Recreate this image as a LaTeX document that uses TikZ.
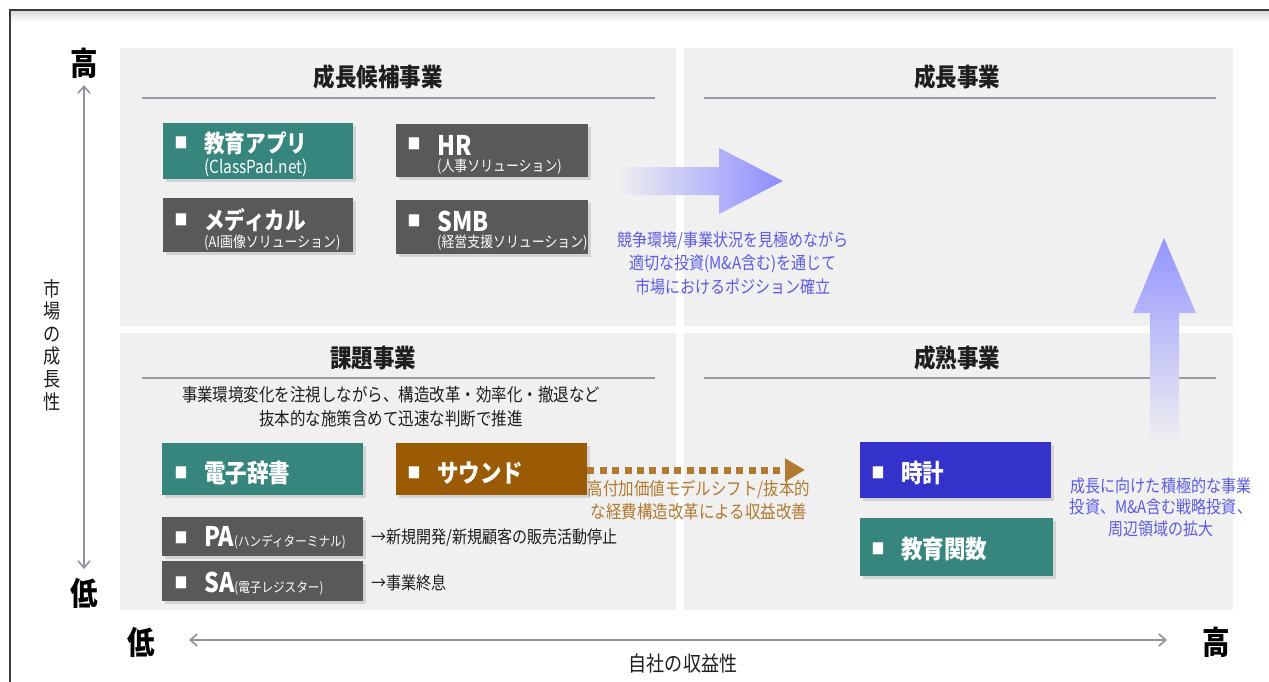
\documentclass[tikz,border=0pt]{standalone}
\usepackage{fontspec}
\setmainfont[FakeStretch=0.86]{Noto Sans CJK JP}
\usetikzlibrary{arrows.meta,shadows}
\definecolor{panel}{HTML}{F0F0F0}
\definecolor{cteal}{HTML}{36867E}
\definecolor{cgray}{HTML}{595959}
\definecolor{cblue}{HTML}{3333CC}
\definecolor{cbrown}{HTML}{9B5B05}
\definecolor{tblue}{HTML}{5C5CE8}
\definecolor{tbrown}{HTML}{B27A30}
\definecolor{caxis}{HTML}{9590A0}
\definecolor{ctitle}{HTML}{1E1E1E}
\definecolor{csep}{HTML}{9C97A3}
\definecolor{cframe}{HTML}{3C3C3C}
\newcommand{\myfs}[1]{\fontsize{#1}{#1}\selectfont}
\begin{document}
\begin{tikzpicture}[x=1pt,y=-1pt,
  box/.style={draw=none,inner sep=0pt,anchor=north west,
    drop shadow={shadow xshift=3pt,shadow yshift=-3pt,opacity=0.25}},
  lbl/.style={inner sep=0pt,anchor=west,text=white,font=\bfseries\myfs{24}},
  sub/.style={inner sep=0pt,anchor=west,text=white,font=\myfs{15}},
  bul/.style={inner sep=0pt,text=white,font=\myfs{15}},
  ttl/.style={inner sep=0pt,text=ctitle,font=\bfseries\myfs{25}},
  sepline/.style={draw=csep,line width=1.2pt},
  btext/.style={inner sep=0pt,align=center,text=tblue,font=\myfs{17.5}},
  axisline/.style={draw=caxis,line width=1.6pt},
  axl/.style={inner sep=0pt,text=black,font=\bfseries\myfs{32}}
]
\useasboundingbox (0,0) rectangle (1269,682);
\fill[white] (0,0) rectangle (1269,682);
% frame
\shade[top color=black!14,bottom color=white] (11,11) rectangle (1269,22);
\draw[cframe,line width=2pt] (10,682) -- (10,10) -- (1269,10);
% panels
\fill[panel] (120,48) rectangle (676,326);
\fill[panel] (684,48) rectangle (1233,326);
\fill[panel] (120,333) rectangle (676,610);
\fill[panel] (684,333) rectangle (1233,610);
% titles
\node[ttl] (t1) at (378,77) {成長候補事業};
\node[ttl] (t2) at (957,77) {成長事業};
\node[ttl] (t3) at (373,358) {課題事業};
\node[ttl] (t4) at (957,358) {成熟事業};
\draw[sepline] (142,98) -- (655,98);
\draw[sepline] (704,98) -- (1216,98);
\draw[sepline] (142,378) -- (655,378);
\draw[sepline] (704,378) -- (1216,378);
% growth arrows
\shade[left color=panel,right color=blue!45!white] (617,167) -- (719,167) -- (719,148) -- (783,181) -- (719,214) -- (719,195) -- (617,195) -- cycle;
\shade[top color=blue!42!white,bottom color=panel] (1150,445) -- (1150,313) -- (1133,313) -- (1164,238) -- (1196,313) -- (1179,313) -- (1179,445) -- cycle;
% top-left boxes
\node[box,fill=cteal,minimum width=190pt,minimum height=56pt] (edu) at (163,123) {};
\node[bul] (edub) at (181,143) {■};
\node[lbl] (edul) at (204,143) {教育アプリ};
\node[sub,font=\myfs{18}] (edus) at (204,168) {(ClassPad.net)};
\node[box,fill=cgray,minimum width=192pt,minimum height=53pt] (hr) at (396,124) {};
\node[bul] (hrb) at (414,144) {■};
\node[lbl,font=\bfseries\myfs{27}] (hrl) at (437,145) {HR};
\node[sub] (hrs) at (437,167) {(人事ソリューション)};
\node[box,fill=cgray,minimum width=190pt,minimum height=54pt] (med) at (163,198) {};
\node[bul] (medb) at (181,220) {■};
\node[lbl] (medl) at (204,220) {メディカル};
\node[sub] (meds) at (204,243) {(AI画像ソリューション)};
\node[box,fill=cgray,minimum width=192pt,minimum height=54pt] (smb) at (396,200) {};
\node[bul] (smbb) at (414,221) {■};
\node[lbl,font=\bfseries\myfs{27}] (smbl) at (437,221) {SMB};
\node[sub] (smbs) at (437,243) {(経営支援ソリューション)};
\node[btext] (grow) at (733,263) {競争環境/事業状況を見極めながら\\[4.5pt]適切な投資(M\&A含む)を通じて\\[4.5pt]市場におけるポジション確立};
% bottom-left
\node[inner sep=0pt,align=center,text=ctitle,font=\myfs{18}] (desc) at (391,407) {事業環境変化を注視しながら、構造改革・効率化・撤退など\\[6pt]抜本的な施策含めて迅速な判断で推進};
\node[box,fill=cteal,minimum width=201pt,minimum height=52pt] (dict) at (162,443) {};
\node[bul] (dictb) at (181,473) {■};
\node[lbl,font=\bfseries\myfs{25}] (dictl) at (204,473) {電子辞書};
\node[box,fill=cbrown,minimum width=191pt,minimum height=52pt] (sound) at (396,443) {};
\node[bul] (soundb) at (414,473) {■};
\node[lbl,font=\bfseries\myfs{25}] (soundl) at (437,473) {サウンド};
\node[box,fill=cgray,minimum width=201pt,minimum height=39pt] (pa) at (162,517) {};
\node[bul] (pab) at (181,538) {■};
\node[lbl,font=\myfs{24}] (pal) at (204,538) {{\bfseries\myfs{27}PA}{\myfs{13.5}(ハンディターミナル)}};
\node[box,fill=cgray,minimum width=201pt,minimum height=40pt] (sa) at (162,561) {};
\node[bul] (sab) at (181,583) {■};
\node[lbl,font=\myfs{24}] (sal) at (204,584) {{\bfseries\myfs{27}SA}{\myfs{13.5}(電子レジスター)}};
\node[inner sep=0pt,anchor=west,text=ctitle,font=\myfs{17.5}] (pan) at (371,538) {→新規開発/新規顧客の販売活動停止};
\node[inner sep=0pt,anchor=west,text=ctitle,font=\myfs{17.5}] (san) at (371,583) {→事業終息};
\coordinate (shiftend) at (805,470);
\draw[draw=tbrown,line width=7pt,dash pattern=on 7pt off 5.4pt,-{Triangle[length=20pt,width=22pt]}] (sound.east |- shiftend) -- (shiftend);
\node[inner sep=0pt,align=center,text=tbrown,font=\myfs{18}] (shift) at (699,500) {高付加価値モデルシフト/抜本的\\[4pt]な経費構造改革による収益改善};
% bottom-right
\node[box,fill=cblue,minimum width=191pt,minimum height=56pt] (watch) at (860,442) {};
\node[bul] (watchb) at (878,473) {■};
\node[lbl,font=\bfseries\myfs{25}] (watchl) at (901,473) {時計};
\node[box,fill=cteal,minimum width=193pt,minimum height=58pt] (calc) at (860,518) {};
\node[bul] (calcb) at (878,549) {■};
\node[lbl,font=\bfseries\myfs{25}] (calcl) at (901,549) {教育関数};
\node[btext] (invest) at (1161,507) {成長に向けた積極的な事業\\[4pt]投資、M\&A含む戦略投資、\\[4pt]周辺領域の拡大};
% axes
\coordinate (vtop) at (84,85);
\coordinate (vbot) at (84,569);
\draw[axisline,{Straight Barb[length=7pt,width=12pt]}-{Straight Barb[length=7pt,width=12pt]}] (vtop) -- (vbot);
\node[axl] (vhigh) at (84,63) {高};
\node[axl] (vlow) at (84,593) {低};
\node[inner sep=0pt,align=center,text=ctitle,font=\myfs{20}] (vlab) at (52,345) {市\\[2.6pt]場\\[2.6pt]の\\[2.6pt]成\\[2.6pt]長\\[2.6pt]性};
\coordinate (hleft) at (189,640);
\coordinate (hright) at (1167,640);
\draw[axisline,{Straight Barb[length=7pt,width=12pt]}-{Straight Barb[length=7pt,width=12pt]}] (hleft) -- (hright);
\node[axl] (hlow) at (141,642) {低};
\node[axl] (hhigh) at (1216,642) {高};
\node[inner sep=0pt,text=ctitle,font=\myfs{21}] (hlab) at (683,664) {自社の収益性};
\end{tikzpicture}
\end{document}
